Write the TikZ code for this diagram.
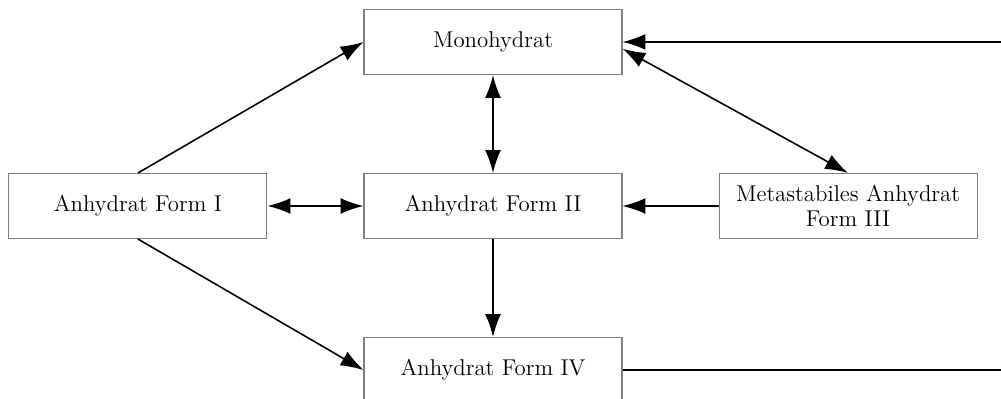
\documentclass[tikz,border=0pt]{standalone}
\usetikzlibrary{positioning,arrows.meta}

\tikzset{
  form/.style={draw=gray, line width=0.6pt, rectangle, minimum width=5.16cm,
    minimum height=1.3cm, align=center, font=\fontsize{13}{14.5}\selectfont},
  conn/.style={line width=0.9pt, -{Latex[length=13pt,width=9pt]}},
  bothconn/.style={line width=0.9pt, {Latex[length=13pt,width=9pt]}-{Latex[length=13pt,width=9pt]}},
}

\begin{document}
\begin{tikzpicture}[node distance=1.96cm and 1.92cm]

  \useasboundingbox (-9.86,-3.84) rectangle (10.16,4.12);

  % Define nodes
  \node[form]                    (formII)   {Anhydrat Form II};
  \node[form, above=of formII]   (mono)     {Monohydrat};
  \node[form, left=of formII]    (formI)    {Anhydrat Form I};
  \node[form, right=of formII]   (meta)     {Metastabiles Anhydrat\\Form III};
  \node[form, below=of formII]   (formIV)   {Anhydrat Form IV};

  % Free ends at the right edge
  \coordinate (edge) at (10.2,0);
  \coordinate (outtop) at (mono.east -| edge);
  \coordinate (outbot) at (formIV.east -| edge);

  % Connect the nodes
  \draw[conn] (formI.north) -- (mono.west);
  \draw[conn] (formI.south) -- (formIV.west);
  \draw[bothconn] (formI.east) -- (formII.west);
  \draw[bothconn] (mono.south) -- (formII.north);
  \draw[conn] (formII.south) -- (formIV.north);
  \draw[conn] (meta.west) -- (formII.east);
  \draw[bothconn] (mono.-3) -- (meta.north);
  \draw[conn] (outtop) -- (mono.east);
  \draw[line width=0.9pt] (formIV.east) -- (outbot);

\end{tikzpicture}
\end{document}
